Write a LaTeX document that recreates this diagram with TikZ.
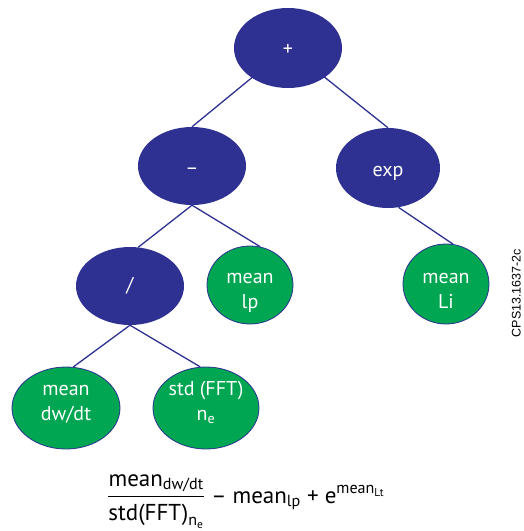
\documentclass[tikz,border=0pt]{standalone}
\usepackage{fontspec}
\usepackage{amsmath}
\setmainfont{PT Sans}
\newfontfamily\codefont{Liberation Sans}
\usetikzlibrary{shapes.geometric,backgrounds}
\definecolor{opblue}{HTML}{2E3192}
\definecolor{leafgreen}{HTML}{00A651}
% two centred lines whose baseline is that of the first line
\newcommand{\twolines}[2]{\begin{tabular}[t]{@{}c@{}}#1\\#2\end{tabular}}
\begin{document}
\begin{tikzpicture}[x=1pt,y=-1pt,
  op/.style={ellipse, fill=opblue, text=white, inner sep=0pt,
    font=\fontsize{20}{25}\selectfont},
  leaf/.style={ellipse, fill=leafgreen, draw=opblue, line width=0.8pt,
    text=white, inner sep=0pt, font=\fontsize{20}{25}\selectfont},
  edge/.style={draw=opblue, line width=1.3pt}]
\useasboundingbox (0,0) rectangle (523,531);

% operator nodes
\node[op, minimum width=108, minimum height=80, text height=14pt, text depth=0pt]
  (plus)  at (288,48)  {+};
\node[op, minimum width=108, minimum height=78, text height=16pt, text depth=0pt]
  (minus) at (192,166) {–};
\node[op, minimum width=104, minimum height=80, text height=16pt, text depth=0pt]
  (exp)   at (388,168) {exp};
\node[op, minimum width=108, minimum height=78] (div) at (130,286) {/};

% leaf nodes
\node[leaf, minimum width=86,  minimum height=78, text height=10pt, text depth=14pt]
  (lp)  at (250,285) {\twolines{mean}{lp}};
\node[leaf, minimum width=86,  minimum height=80, text height=10pt, text depth=12pt]
  (li)  at (446,284) {\twolines{mean}{Li}};
\node[leaf, minimum width=108, minimum height=82, text height=0pt, text depth=26pt]
  (dw)  at (66,408)  {\twolines{mean}{dw/dt}};
\node[leaf, minimum width=106, minimum height=82, text height=0pt, text depth=26pt]
  (std) at (206,408) {\twolines{std (FFT)}{n\textsubscript{e}}};

% connectors behind the nodes
\begin{scope}[on background layer]
  \draw[edge] (plus.center) -- (minus.north);
  \draw[edge] (plus.center) -- (exp.north);
  \draw[edge] (minus.south) -- (div.78);
  \draw[edge] (minus.south) -- (lp.75);
  \draw[edge] (exp.-75) -- (li.80);
  \draw[edge] (div.south) -- (dw.80);
  \draw[edge] (div.south) -- (std.98);
\end{scope}

% figure code along the right edge
\node[rotate=90, anchor=base, inner sep=0pt, font=\codefont\fontsize{12.5}{14}\selectfont]
  (code) at (520.5,293) {CPS13.1637-2c};

% expression represented by the tree
\node[anchor=base west, inner sep=0pt, font=\fontsize{23}{28}\selectfont] (formula) at (107,503)
  {$\dfrac{\text{mean}_{\text{dw/dt}}}{\text{std(FFT)}_{\text{n}_{\text{e}}}}$\
   – mean\textsubscript{lp} + e\textsuperscript{mean\textsubscript{Lt}}};
\end{tikzpicture}
\end{document}
